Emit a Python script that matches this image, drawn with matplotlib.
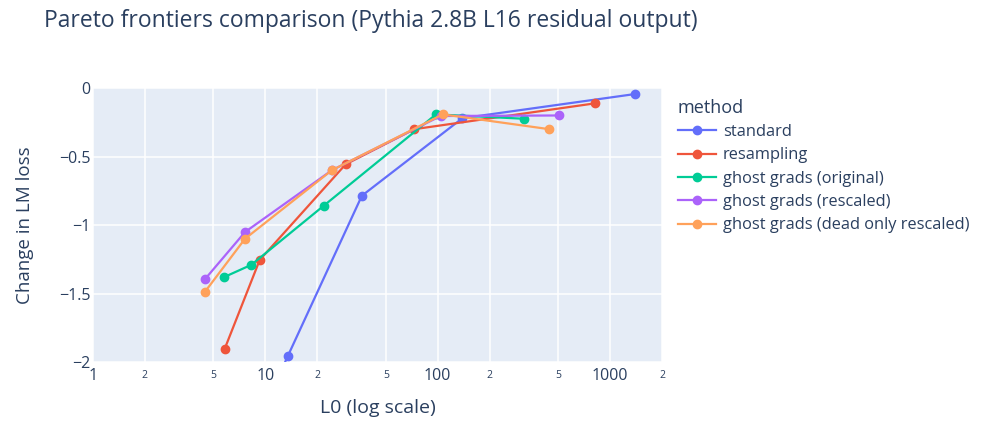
import numpy as np
import matplotlib.pyplot as plt

# values
methods = ["standard", "resampling", "ghost grads (original)",
           "ghost grads (rescaled)", "ghost grads (dead only rescaled)"]
l0_standard = [10.0, 13.5, 36.3, 139, 1387]
loss_standard = [-2.32, -1.956, -0.786, -0.22, -0.044]
l0_resampling = [5.81, 9.27, 29.2, 73.2, 812]
loss_resampling = [-1.903, -1.255, -0.557, -0.30, -0.112]
l0_original = [5.76, 8.3, 21.8, 97.7, 317]
loss_original = [-1.38, -1.29, -0.859, -0.192, -0.224]
l0_rescaled = [4.47, 7.62, 24.3, 104, 502]
loss_rescaled = [-1.394, -1.051, -0.60, -0.204, -0.20]
l0_dead = [4.47, 7.62, 24.3, 107, 443]
loss_dead = [-1.486, -1.10, -0.60, -0.192, -0.30]

series = [(l0_standard, loss_standard), (l0_resampling, loss_resampling),
          (l0_original, loss_original), (l0_rescaled, loss_rescaled),
          (l0_dead, loss_dead)]
colors = ["#636efa", "#EF553B", "#00cc96", "#ab63fa", "#FFA15A"]
text_color = "#2a3f5f"

plt.rcParams["font.family"] = ["Open Sans", "DejaVu Sans"]

fig = plt.figure(figsize=(9.81, 4.41), dpi=100)
ax = fig.add_axes([0.0948, 0.179, 0.58, 0.6213])
ax.set_facecolor("#E5ECF6")

for name, (x, y), c in zip(methods, series, colors):
    ax.plot(x, y, color=c, lw=1.6, marker="o", ms=6, label=name)

ax.set_xscale("log")
ax.set_xlim(1, 2000)
ax.set_ylim(-2, 0)

major = [1, 10, 100, 1000]
minor = [m * d for d in major for m in (2, 5) if m * d <= 2000]
ax.set_xticks(major)
ax.set_xticklabels([str(v) for v in major], fontsize=11.5, color=text_color)
ax.set_xticks(minor, minor=True)
ax.set_xticklabels([str(v)[0] for v in minor], minor=True, fontsize=7.5, color=text_color)
ax.set_yticks([-2, -1.5, -1, -0.5, 0])
ax.set_yticklabels(["\u22122", "\u22121.5", "\u22121", "\u22120.5", "0"],
                   fontsize=11.5, color=text_color)
ax.tick_params(axis="both", which="both", length=0, pad=4)
ax.tick_params(axis="y", pad=2)
ax.tick_params(axis="x", which="minor", pad=6)
ax.grid(True, which="both", color="white", lw=1.1)
ax.set_axisbelow(True)
for s in ax.spines.values():
    s.set_visible(False)

ax.set_xlabel("L0 (log scale)", fontsize=14, color=text_color, labelpad=11)
ax.set_ylabel("Change in LM loss", fontsize=13.5, color=text_color, labelpad=18)

fig.text(0.045, 0.953, "Pareto frontiers comparison (Pythia 2.8B L16 residual output)",
         fontsize=16.5, color=text_color, va="center")

leg = fig.legend(loc="upper left", bbox_to_anchor=(0.676, 0.81), frameon=False,
                 title="method", fontsize=11.8, title_fontsize=13,
                 handlelength=2.3, handletextpad=0.45, labelspacing=0.45,
                 alignment="left", labelcolor=text_color)
leg.get_title().set_color(text_color)

fig.savefig("out.png", dpi=100)
